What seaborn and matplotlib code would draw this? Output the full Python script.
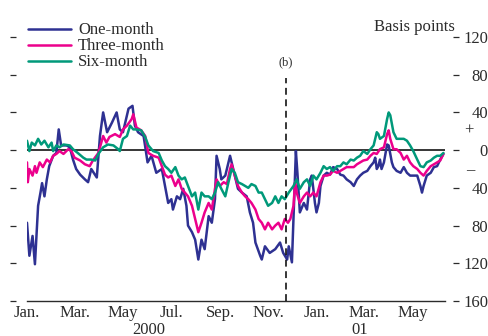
import numpy as np
import pandas as pd
import matplotlib
matplotlib.use("Agg")
import matplotlib.pyplot as plt
import seaborn as sns
from matplotlib.lines import Line2D

# ---------------- data (readings; days after 1 Jan 2000, basis points) ----------------
origin = "2000-01-01"

one_month_days = [0, 3, 7, 10, 14, 17, 19, 22, 25, 28, 33, 37, 40, 43, 50, 54, 58, 62, 67, 73, 77, 81, 88, 92, 96,
                  101, 107, 113, 117, 121, 128, 133, 136, 140, 147, 152, 157, 163,
                  170, 174, 178, 182, 184, 189, 193, 197, 201, 203, 208, 212, 216, 220, 224, 229, 233, 237, 239,
                  243, 245, 250, 256, 258, 262, 266, 271, 277, 281, 285, 288, 294, 296, 300, 306, 313, 319, 323,
                  328, 330, 334, 339, 341, 344, 349, 353, 357, 359, 361, 363, 365, 368, 370, 374, 378, 382, 386,
                  391, 395, 399, 403, 408, 412, 416, 420, 424, 429, 433, 437, 439, 441, 443, 445, 447, 450, 454,
                  456, 458, 460, 462, 466, 471, 475, 479, 483, 487, 492, 496, 498, 500, 504, 509, 513, 517, 521, 525]
one_month = [-77, -112, -91, -121, -59, -45, -35, -49, -31, -17, -6, -3, 22, 5, 5, 3, -10, -20, -26, -31, -34, -20, -29, 15, 40,
             19, 29, 40, 22, 19, 44, 47, 26, 19, 15, -13, -6, -24,
             -20, -38, -56, -52, -63, -49, -52, -41, -59, -80, -87, -95, -116, -95, -105, -70, -77, -52, -6,
             -20, -31, -27, -6, -13, -27, -41, -45, -49, -66, -77, -98, -112, -116, -102, -109, -105, -98, -109,
             -116, -102, -119, -1, -25, -66, -56, -63, -31, -27, -41, -56, -66, -56, -38, -27, -24, -26, -18,
             -20, -26, -27, -31, -34, -38, -31, -27, -24, -22, -17, -13, -8, -20, -17, -10, -20, -13, 6,
             5, -4, -13, -18, -22, -24, -18, -24, -27, -27, -27, -38, -45, -38, -27, -24, -18, -17, -10, -4]

three_month_days = [0, 1, 3, 7, 10, 12, 16, 20, 25, 29, 33, 37, 41, 46, 52, 56, 60, 67, 73, 79, 83, 90, 96, 100, 104,
                    111, 117, 121, 126, 132, 134, 138, 144, 149, 153, 159, 166,
                    170, 174, 178, 182, 187, 191, 195, 199, 203, 208, 212, 216, 220, 224, 229, 233, 237, 239, 243,
                    248, 252, 256, 258, 262, 266, 271, 275, 279, 283, 288, 292, 296, 300, 304, 309, 313, 317, 321,
                    325, 329, 332, 336, 338, 340, 344, 349, 353, 357, 361, 365, 370, 374, 378, 382, 386, 391, 395,
                    399, 403, 408, 412, 416, 420, 424, 429, 433, 437, 441, 445, 450, 454, 456, 458, 462, 466, 471,
                    475, 479, 483, 487, 492, 496, 500, 504, 509, 513, 517, 521, 525]
three_month = [-13, -34, -20, -27, -17, -24, -13, -18, -10, -13, -6, -4, -1, -4, 1, -1, -8, -11, -15, -17, -11, -3, 15, 8, 14,
               17, 14, 22, 26, 33, 38, 24, 21, 15, -3, -6, -8,
               -17, -26, -29, -27, -38, -31, -41, -45, -49, -59, -73, -87, -77, -66, -56, -63, -41, -31, -38,
               -34, -36, -20, -15, -27, -38, -45, -49, -52, -56, -63, -73, -77, -84, -77, -84, -80, -77, -84,
               -73, -77, -73, -59, -34, -45, -56, -49, -45, -49, -45, -49, -34, -27, -27, -26, -22, -24, -22,
               -20, -18, -18, -18, -15, -13, -11, -10, -6, -3, -4, 1, 3, 17, 21, 12, 1, 1, -3,
               -10, -6, -13, -17, -20, -24, -27, -22, -17, -15, -13, -11, -4]

six_month_days = [0, 3, 6, 10, 14, 18, 22, 27, 31, 33, 37, 41, 46, 54, 58, 64, 71, 75, 81, 86, 90, 96, 102, 109, 115,
                  117, 121, 126, 130, 134, 138, 144, 149, 153, 159, 166,
                  170, 174, 178, 182, 187, 191, 195, 199, 203, 208, 212, 216, 220, 224, 229, 233, 237, 241, 245,
                  250, 254, 258, 262, 266, 271, 275, 279, 283, 288, 292, 296, 300, 304, 309, 313, 317, 321, 325,
                  330, 336, 340, 344, 349, 353, 357, 361, 365, 370, 374, 378, 382, 386, 391, 395, 399, 403, 408,
                  412, 416, 420, 424, 429, 433, 437, 441, 443, 445, 450, 454, 456, 458, 462, 466, 471, 475, 479,
                  483, 487, 492, 496, 500, 504, 509, 513, 517, 521, 525]
six_month = [10, -1, 8, 5, 12, 6, 10, 3, 8, -1, 5, 3, 6, 5, 1, -3, -8, -10, -10, -11, -4, 3, 6, 5, 1,
             -1, 12, 15, 26, 22, 22, 21, 14, 5, -1, -3,
             -11, -17, -20, -24, -18, -27, -31, -29, -38, -49, -45, -63, -45, -49, -49, -52, -45, -34, -41,
             -49, -34, -20, -24, -34, -36, -38, -40, -36, -38, -45, -45, -52, -59, -56, -49, -56, -49, -52,
             -45, -38, -31, -41, -34, -31, -38, -27, -31, -24, -17, -20, -18, -22, -17, -17, -13, -15, -10,
             -11, -8, -6, -1, -4, 1, 5, 19, 17, 12, 15, 33, 40, 37, 19, 12, 12, 12, 10,
             5, -1, -10, -17, -18, -13, -11, -8, -6, -6, -3]

series_names = ["One-month", "Three-month", "Six-month"]
series_colors = ["#2E3192", "#EC008C", "#00997A"]

xtick_dates = ["2000-01-01", "2000-03-01", "2000-05-01", "2000-07-01", "2000-09-01",
               "2000-11-01", "2001-01-01", "2001-03-01", "2001-05-01"]
xtick_labels = ["Jan.", "Mar.", "May", "Jul.", "Sep.", "Nov.", "Jan.", "Mar.", "May"]
ytick_values = [120, 80, 40, 0, -40, -80, -120, -160]
ytick_labels = ["120", "80", "40", "0", "40", "80", "120", "160"]
year_labels = ["2000", "01"]
year_label_dates = ["2000-06-03", "2001-02-23"]
event_date = "2000-11-22"
event_label = "(b)"

# ---------------- build frame ----------------
t0 = pd.Timestamp(origin)
frames = []
for name, d, v in zip(series_names,
                      [one_month_days, three_month_days, six_month_days],
                      [one_month, three_month, six_month]):
    frames.append(pd.DataFrame({"date": t0 + pd.to_timedelta(d, unit="D"),
                                "value": v, "series": name}))
df = pd.concat(frames, ignore_index=True)

# ---------------- style ----------------
sns.set_theme(style="white")
plt.rcParams["font.family"] = ["Liberation Serif", "DejaVu Serif"]
text_color = "#2b2b2b"
fs = 12

fig = plt.figure(figsize=(4.89, 3.36), dpi=100)
W, H = 489, 336
ax = fig.add_axes([27 / W, 1 - 301 / H, (445 - 27) / W, (301 - 37) / H])

sns.lineplot(data=df, x="date", y="value", hue="series", hue_order=series_names,
             palette=series_colors, linewidth=1.8, ax=ax, legend=False,
             estimator=None, sort=True)

ax.set_xlim(pd.Timestamp("2000-01-01"), pd.Timestamp("2001-06-11"))
ax.set_ylim(-160, 120)
ax.axhline(0, color="black", lw=1.1, zorder=1)

# event line
ax.plot([pd.Timestamp(event_date)] * 2, [-160, 76], color="black", lw=1.1,
        dashes=(4.5, 3), zorder=5)
ax.text(pd.Timestamp(event_date), 87, event_label, ha="center", va="bottom",
        fontsize=9, color=text_color)

# spines
ax.spines["top"].set_visible(False)
ax.spines["left"].set_position(("outward", 8))
ax.spines["right"].set_position(("outward", 6))
ax.spines["left"].set_visible(False)
ax.spines["right"].set_visible(False)
ax.spines["bottom"].set_color(text_color)
ax.spines["bottom"].set_linewidth(1.0)

# x axis
ax.set_xticks(pd.to_datetime(xtick_dates))
ax.set_xticklabels(xtick_labels)
ax.tick_params(axis="x", direction="in", length=3, width=0.9, color=text_color,
               labelsize=fs, labelcolor=text_color, pad=3)
ax.set_xlabel("")
ax.set_ylabel("")
for lab, d in zip(year_labels, year_label_dates):
    ax.text(pd.Timestamp(d), -0.108, lab, transform=ax.get_xaxis_transform(),
            ha="center", va="center", fontsize=fs, color=text_color)

# y axis
ax.set_yticks(ytick_values)
ax.set_yticklabels(ytick_labels)
ax.tick_params(axis="y", left=True, right=True, labelleft=False, labelright=True,
               direction="out", length=4, width=0.9, color=text_color,
               labelsize=fs, labelcolor=text_color, pad=21)
for lab in ax.get_yticklabels():
    lab.set_horizontalalignment("right")

fig.text(469 / W, 1 - 131 / H, "+", ha="center", va="center", fontsize=fs, color=text_color)
fig.text(470 / W, 1 - 170 / H, "\u2013", ha="center", va="center", fontsize=fs, color=text_color)
fig.text(455 / W, 1 - 27 / H, "Basis points", ha="right", va="center", fontsize=fs, color=text_color)

# legend
handles = [Line2D([0], [0], color=c, lw=1.8) for c in series_colors]
leg = ax.legend(handles, series_names, loc="upper left",
                bbox_to_anchor=(28 / W, 1 - 22.5 / H), bbox_transform=fig.transFigure,
                frameon=False, fontsize=fs, handlelength=2.6, handletextpad=0.4,
                labelspacing=0.0, borderpad=0, borderaxespad=0)
for t in leg.get_texts():
    t.set_color(text_color)

ax.grid(False)
fig.savefig("out.png", dpi=100)
